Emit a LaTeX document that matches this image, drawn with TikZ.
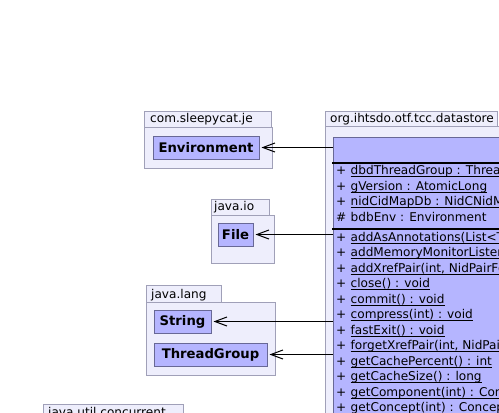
\documentclass[tikz,border=0pt]{standalone}
\usepackage{fontspec}
\setmainfont{DejaVu Sans}
\usetikzlibrary{arrows.meta}
\definecolor{pkgfill}{RGB}{238,238,252}
\definecolor{pkgline}{RGB}{160,160,184}
\definecolor{clsfill}{RGB}{181,181,255}
\definecolor{clsline}{RGB}{104,104,150}
\tikzset{
  pkgbox/.style={draw=pkgline, fill=pkgfill, line width=1pt},
  pkglabel/.style={anchor=base west, inner sep=0pt, font=\fontsize{12.1}{15}\selectfont},
  clsbox/.style={draw=clsline, fill=clsfill, line width=1pt},
  clsname/.style={draw=clsline, fill=clsfill, line width=1pt, inner sep=0pt,
    font=\fontsize{13.2}{15}\selectfont\bfseries, minimum height=23pt},
  member/.style={anchor=base west, inner sep=0pt, font=\fontsize{12.1}{15}\selectfont},
  sepline/.style={line width=2pt, black},
  uline/.style={line width=1pt, black},
  dep/.style={line width=1pt, -{Straight Barb[length=12pt,width=9pt]}, shorten >=2pt},
}
\begin{document}
\begin{tikzpicture}[x=1pt,y=-1pt]
\useasboundingbox (0,0) rectangle (499,413);
\clip (0,0) rectangle (499,413);

% package com.sleepycat.je
\draw[pkgbox] (144.5,111.5) rectangle (271.5,127.5);
\draw[pkgbox] (144.5,127.5) rectangle (272.5,168.5);
\node[pkglabel] (pkgje) at (150,122.5) {com.sleepycat.je};
\node[clsname, minimum width=106pt] (env) at (206,147.5) {Environment};

% package java.io
\draw[pkgbox] (211.5,199.5) rectangle (269.5,215.5);
\draw[pkgbox] (211.5,215.5) rectangle (274.5,263.5);
\node[pkglabel] (pkgio) at (214,210.7) {java.io};
\node[clsname, minimum width=35pt] (file) at (235.5,234.5) {File};

% package java.lang
\draw[pkgbox] (146.5,285.5) rectangle (221.5,302.5);
\draw[pkgbox] (146.5,302.5) rectangle (275.5,375.5);
\node[pkglabel] (pkglang) at (151,298.3) {java.lang};
\node[clsname, minimum width=57pt] (str) at (182.5,321.5) {String};
\node[clsname, minimum width=113pt] (tg) at (210.5,354.5) {ThreadGroup};

% package java.util.concurrent
\draw[pkgbox] (43.5,404.5) rectangle (183.5,420.5);
\node[pkglabel] (pkgconc) at (48,416.5) {java.util.concurrent};

% package org.ihtsdo.otf.tcc.datastore
\draw[pkgbox] (325.5,111.5) rectangle (497.5,126.5);
\draw[pkgbox] (325.5,126.5) rectangle (560,460);
\node[pkglabel] (pkgds) at (330,122.3) {org.ihtsdo.otf.tcc.datastore};

% class box with its compartments
\node[clsbox, minimum width=220pt, minimum height=320pt, anchor=north west, inner sep=0pt] (bdb) at (332.5,136.5) {};
\draw[sepline] (332,162.5) -- (560,162.5);
\draw[sepline] (332,228.5) -- (560,228.5);

% members: visibility / text / static (underlined) / baseline
\foreach \sym/\txt/\u/\yy [count=\i] in {
  +/{dbdThreadGroup : ThreadGroup}/1/174,
  +/{gVersion : AtomicLong}/1/190,
  +/{nidCidMapDb : NidCNidMapBdb}/1/205,
  \#/{bdbEnv : Environment}/0/221,
  +/{addAsAnnotations(List<TkRefsetAbstractMember<?>>) : void}/1/241,
  +/{addMemoryMonitorListener(LowMemoryListener) : void}/1/256,
  +/{addXrefPair(int, NidPairForRefset) : void}/1/272,
  +/{close() : void}/1/287,
  +/{commit() : void}/1/303,
  +/{compress(int) : void}/1/318,
  +/{fastExit() : void}/1/334,
  +/{forgetXrefPair(int, NidPairForRefset) : void}/1/349,
  +/{getCachePercent() : int}/1/365,
  +/{getCacheSize() : long}/1/380,
  +/{getComponent(int) : ConceptComponent<?, ?>}/1/396,
  +/{getConcept(int) : Concept}/1/411}{
  \node[member] (v\i) at (336,\yy) {\sym};
  \node[member] (m\i) at (350.5,\yy) {\txt};
  \ifnum\u=1
    \draw[uline] ([yshift=-2.5pt]m\i.base west) -- ([yshift=-2.5pt]m\i.base east);
  \fi
}

% dependencies
\draw[dep] (env -| bdb.west) -- (env);
\draw[dep] (file -| bdb.west) -- (file);
\draw[dep] (str -| bdb.west) -- (str);
\draw[dep] (tg -| bdb.west) -- (tg);
\end{tikzpicture}
\end{document}
